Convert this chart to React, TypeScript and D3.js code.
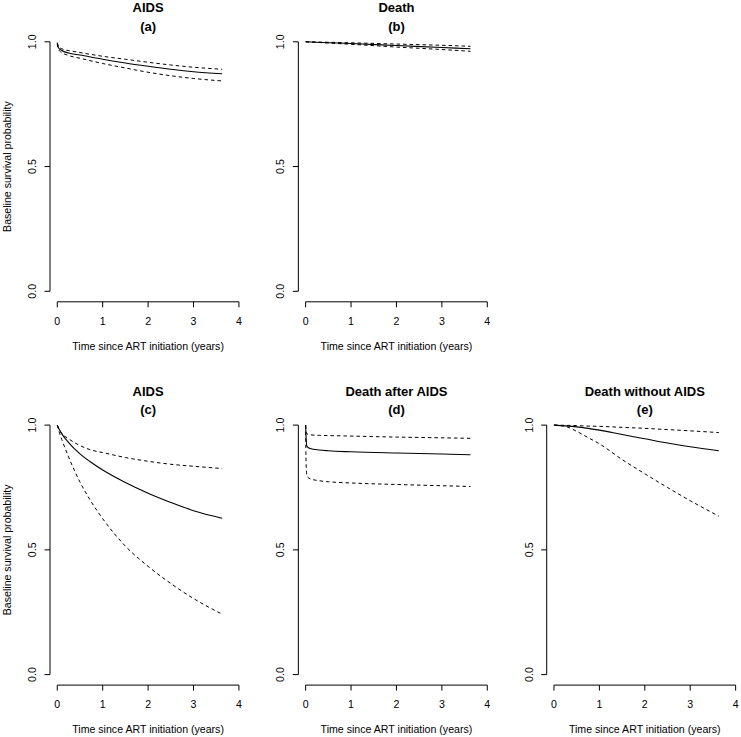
import React from 'react';
import * as d3 from 'd3';

const panelTitles = ['AIDS', 'Death', 'AIDS', 'Death after AIDS', 'Death without AIDS'];
const panelLetters = ['(a)', '(b)', '(c)', '(d)', '(e)'];
const xTicks = [0, 1, 2, 3, 4];
const yTicks = [0, 0.5, 1];
const yTickLabels = ['0.0', '0.5', '1.0'];
const xLabel = 'Time since ART initiation (years)';
const yLabel = 'Baseline survival probability';

// (a) AIDS
const tA = [0, 0.03, 0.1, 0.25, 0.5, 1, 1.5, 2, 2.5, 3, 3.63];
const estA = [0.995, 0.975, 0.965, 0.955, 0.947, 0.93, 0.915, 0.902, 0.89, 0.88, 0.872];
const upA = [0.997, 0.98, 0.972, 0.965, 0.957, 0.942, 0.93, 0.918, 0.907, 0.898, 0.89];
const loA = [0.992, 0.968, 0.957, 0.945, 0.934, 0.913, 0.895, 0.878, 0.864, 0.853, 0.843];

// (b) Death
const tB = [0, 1, 2, 3, 3.63];
const estB = [1.0, 0.993, 0.985, 0.977, 0.972];
const upB = [1.0, 0.996, 0.991, 0.986, 0.982];
const loB = [1.0, 0.99, 0.979, 0.969, 0.962];

// (c) AIDS
const tC = [0, 0.05, 0.1, 0.25, 0.5, 0.75, 1, 1.5, 2, 2.5, 3, 3.63];
const estC = [1.0, 0.98, 0.965, 0.93, 0.885, 0.85, 0.82, 0.77, 0.727, 0.69, 0.657, 0.627];
const upC = [1.0, 0.98, 0.967, 0.945, 0.918, 0.9, 0.89, 0.87, 0.855, 0.843, 0.835, 0.826];
const loC = [1.0, 0.968, 0.942, 0.872, 0.772, 0.692, 0.625, 0.515, 0.434, 0.365, 0.305, 0.242];

// (d) Death after AIDS
const tD = [0, 0.01, 0.03, 0.1, 0.3, 0.5, 1, 2, 3, 3.63];
const estD = [1.0, 0.95, 0.915, 0.906, 0.9, 0.897, 0.893, 0.888, 0.884, 0.881];
const upD = [1.0, 0.98, 0.965, 0.961, 0.959, 0.958, 0.956, 0.952, 0.949, 0.947];
const loD = [1.0, 0.85, 0.795, 0.785, 0.777, 0.773, 0.768, 0.762, 0.757, 0.754];

// (e) Death without AIDS
const tE = [0, 0.25, 0.5, 0.75, 1, 1.5, 2, 2.5, 3, 3.63];
const estE = [1.0, 0.997, 0.993, 0.987, 0.98, 0.962, 0.945, 0.928, 0.913, 0.897];
const upE = [1.0, 0.999, 0.998, 0.996, 0.995, 0.991, 0.987, 0.982, 0.977, 0.97];
const loE = [1.0, 0.995, 0.975, 0.95, 0.925, 0.862, 0.805, 0.75, 0.697, 0.635];

const panelData = [
  { t: tA, est: estA, up: upA, lo: loA, col: 0, row: 0, ylab: true },
  { t: tB, est: estB, up: upB, lo: loB, col: 1, row: 0, ylab: false },
  { t: tC, est: estC, up: upC, lo: loC, col: 0, row: 1, ylab: true },
  { t: tD, est: estD, up: upD, lo: loD, col: 1, row: 1, ylab: false },
  { t: tE, est: estE, up: upE, lo: loE, col: 2, row: 1, ylab: false },
];

const FONT = '"Liberation Sans", Arial, Helvetica, sans-serif';

function Panel({ p, i }: { p: any; i: number }) {
  const axisX = 50 + p.col * 248.35;
  const y1 = 41.8 + p.row * 383.3;
  const y0 = y1 + 249.5;
  const x = d3.scaleLinear().domain([-0.16, 4.16]).range([axisX, axisX + 196.2]);
  const y = d3.scaleLinear().domain([0, 1]).range([y0, y1]);
  const line = d3
    .line<number>()
    .x((_, k) => x(p.t[k]))
    .y((v) => y(v))
    .curve(d3.curveMonotoneX);
  const axisY = y0 + 10.5;
  const cx = (x(0) + x(4)) / 2;
  const cy = (y0 + y1) / 2;
  return (
    <g>
      <text x={(axisX + axisX + 196.2) / 2} y={y1 - 34} textAnchor="middle" dominantBaseline="central"
        fontWeight="bold" fontSize={13} fontFamily={FONT}>{panelTitles[i]}</text>
      <text x={(axisX + axisX + 196.2) / 2} y={y1 - 15.5} textAnchor="middle" dominantBaseline="central"
        fontWeight="bold" fontSize={13} fontFamily={FONT}>{panelLetters[i]}</text>
      {/* y axis */}
      <line x1={axisX} x2={axisX} y1={y(0)} y2={y(1)} stroke="#000" strokeWidth={1} />
      {yTicks.map((v, k) => (
        <g key={k}>
          <line x1={axisX - 5.5} x2={axisX} y1={y(v)} y2={y(v)} stroke="#000" strokeWidth={1} />
          <text transform={`translate(${axisX - 18},${y(v)}) rotate(-90)`} textAnchor="middle"
            dominantBaseline="central" fontSize={10.6} fontFamily={FONT}>{yTickLabels[k]}</text>
        </g>
      ))}
      {/* x axis */}
      <line x1={x(0)} x2={x(4)} y1={axisY} y2={axisY} stroke="#000" strokeWidth={1} />
      {xTicks.map((v) => (
        <g key={v}>
          <line x1={x(v)} x2={x(v)} y1={axisY} y2={axisY + 5.5} stroke="#000" strokeWidth={1} />
          <text x={x(v)} y={axisY + 19} textAnchor="middle" dominantBaseline="central"
            fontSize={10.6} fontFamily={FONT}>{v}</text>
        </g>
      ))}
      <text x={cx} y={axisY + 44} textAnchor="middle" dominantBaseline="central" fontSize={10.6}
        fontFamily={FONT}>{xLabel}</text>
      {p.ylab && (
        <text transform={`translate(7,${cy}) rotate(-90)`} textAnchor="middle" dominantBaseline="central"
          fontSize={10.6} fontFamily={FONT}>{yLabel}</text>
      )}
      <path d={line(p.up) || ''} fill="none" stroke="#000" strokeWidth={1} strokeDasharray="3.5,3" />
      <path d={line(p.lo) || ''} fill="none" stroke="#000" strokeWidth={1} strokeDasharray="3.5,3" />
      <path d={line(p.est) || ''} fill="none" stroke="#000" strokeWidth={1.1} />
    </g>
  );
}

export default function App() {
  return (
    <svg width={741} height={737} style={{ position: 'absolute', left: 0, top: 0, background: '#fff' }}>
      <rect x={0} y={0} width={741} height={737} fill="#fff" />
      {panelData.map((p, i) => (
        <Panel key={i} p={p} i={i} />
      ))}
    </svg>
  );
}
